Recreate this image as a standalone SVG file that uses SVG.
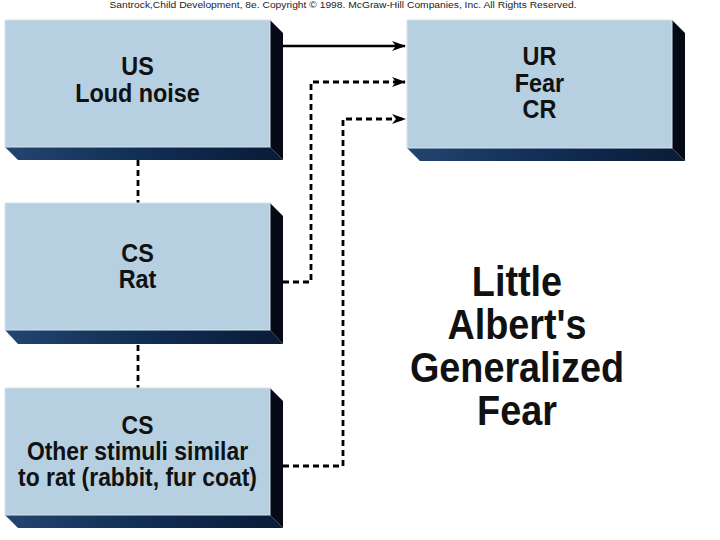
<svg xmlns="http://www.w3.org/2000/svg" width="720" height="540" viewBox="0 0 720 540">
<defs>
<style>
.face{fill:#b6cfe1;stroke:#d6e4ee;stroke-width:1}
.side{fill:#050a16}
.bottom{fill:url(#bot)}
.lbl{font-family:"Liberation Sans",Arial,sans-serif;font-size:26px;font-weight:bold;fill:#111;text-anchor:middle}
.title{font-family:"Liberation Sans",Arial,sans-serif;font-size:42px;font-weight:bold;fill:#111;text-anchor:middle}
.solid{stroke:#000;stroke-width:2.5;fill:none}
.dash{stroke:#000;stroke-width:2.8;fill:none;stroke-dasharray:6 4}
</style>
<linearGradient id="bot" x1="0" y1="0" x2="1" y2="0">
<stop offset="0" stop-color="#22456f"/>
<stop offset="0.5" stop-color="#112e55"/>
<stop offset="1" stop-color="#0a1b36"/>
</linearGradient>
<marker id="ah" viewBox="0 0 14 10" refX="13" refY="5" markerWidth="14" markerHeight="10" markerUnits="userSpaceOnUse" orient="auto">
<path d="M0,0 L14,5 L0,10 L4,5 Z" fill="#000"/>
</marker>
</defs>
<rect width="720" height="540" fill="#fff"/>
<text x="343" y="8" font-family="'Liberation Sans',Arial,sans-serif" font-size="8.5" fill="#222" text-anchor="middle" textLength="467" lengthAdjust="spacingAndGlyphs">Santrock,Child Development, 8e. Copyright © 1998. McGraw-Hill Companies, Inc. All Rights Reserved.</text>

<g id="connectors">
<path class="dash" d="M138,160 V203"/>
<path class="dash" d="M138,345 V388"/>
<path class="solid" d="M283,46 H405" marker-end="url(#ah)"/>
<path class="dash" d="M283,282 H311 V82 H405" marker-end="url(#ah)"/>
<path class="dash" d="M283,466 H343 V119 H405" marker-end="url(#ah)"/>
</g>

<g id="us">
<polygon class="side" points="270,20 283,33 283,160 270,147"/>
<polygon class="bottom" points="5,147 270,147 283,160 18,160"/>
<rect class="face" x="5" y="20" width="265" height="127"/>
<g transform="translate(137.5,0) scale(0.9,1)">
<text class="lbl" x="0" y="75">US</text>
<text class="lbl" x="0" y="102">Loud noise</text>
</g>
</g>

<g id="ur">
<polygon class="side" points="672,20 685,33 685,161 672,148"/>
<polygon class="bottom" points="407,148 672,148 685,161 420,161"/>
<rect class="face" x="407" y="20" width="265" height="128"/>
<g transform="translate(539.5,0) scale(0.9,1)">
<text class="lbl" x="0" y="65">UR</text>
<text class="lbl" x="0" y="92">Fear</text>
<text class="lbl" x="0" y="118">CR</text>
</g>
</g>

<g id="cs-rat">
<polygon class="side" points="270,203 283,216 283,344 270,330"/>
<polygon class="bottom" points="5,330 270,330 283,344 18,344"/>
<rect class="face" x="5" y="203" width="265" height="127"/>
<g transform="translate(137.5,0) scale(0.9,1)">
<text class="lbl" x="0" y="262">CS</text>
<text class="lbl" x="0" y="288">Rat</text>
</g>
</g>

<g id="cs-other">
<polygon class="side" points="270,388 283,401 283,528 270,515"/>
<polygon class="bottom" points="5,515 270,515 283,528 18,528"/>
<rect class="face" x="5" y="388" width="265" height="127"/>
<g transform="translate(137.5,0) scale(0.88,1)">
<text class="lbl" x="0" y="434">CS</text>
<text class="lbl" x="0" y="460">Other stimuli similar</text>
<text class="lbl" x="0" y="486">to rat (rabbit, fur coat)</text>
</g>
</g>

<g id="title" transform="translate(517,0) scale(0.9,1)">
<text class="title" x="0" y="296">Little</text>
<text class="title" x="0" y="339">Albert's</text>
<text class="title" x="0" y="382">Generalized</text>
<text class="title" x="0" y="425">Fear</text>
</g>
</svg>
